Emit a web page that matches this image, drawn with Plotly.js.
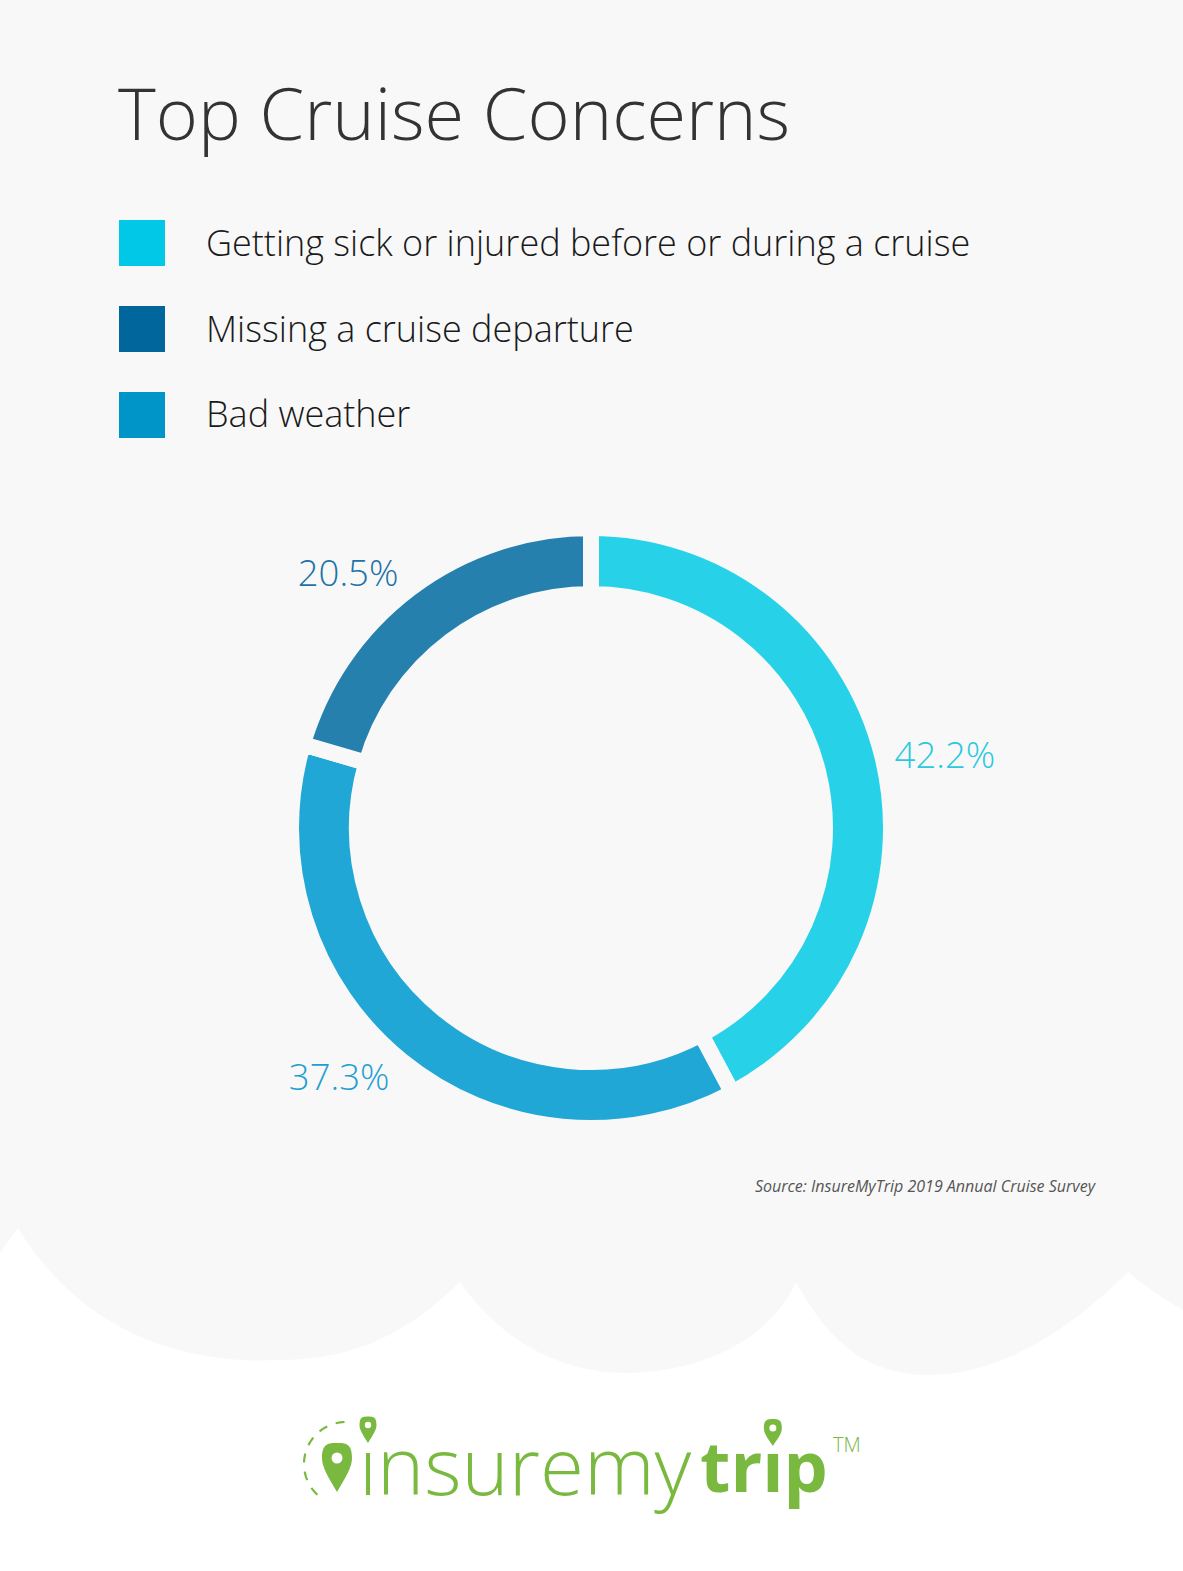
<!DOCTYPE html>
<html>
<head>
<meta charset="utf-8">
<script src="https://cdn.plot.ly/plotly-3.0.1.min.js"></script>
<style>
  html, body { margin: 0; padding: 0; background: #ffffff; }
  #chart { width: 1183px; height: 1571px; }
</style>
</head>
<body>
<div id="chart"></div>
<script>
// ---- Data ----
var categories = [
  "Getting sick or injured before or during a cruise",
  "Missing a cruise departure",
  "Bad weather"
];
var shares = [42.2, 20.5, 37.3];          // percent of respondents
var ringColors = ["#27d2e8", "#2580ae", "#21a7d5"];
var legendColors = ["#00c8e6", "#00669c", "#0095c8"];
var labelColors = ["#2ac9e0", "#1d73a6", "#1f9fd1"];
var ringOrder = [0, 2, 1];                // clockwise order round the ring
var titleText = "Top Cruise Concerns";
var sourceText = "Source: InsureMyTrip 2019 Annual Cruise Survey";

// ---- helpers (pixel -> paper) ----
var W = 1183, H = 1571;
function px(x) { return x / W; }
function py(y) { return 1 - y / H; }

// ---- pie trace ----
var pieLabels = ringOrder.map(function (i) { return categories[i]; });
var pieValues = ringOrder.map(function (i) { return shares[i]; });
var pieColors = ringOrder.map(function (i) { return ringColors[i]; });
var pieTextColors = ringOrder.map(function (i) { return labelColors[i]; });

var cx = 588, cy = 828, R = 300;
var trace = {
  type: "pie",
  labels: pieLabels,
  values: pieValues,
  sort: false,
  direction: "clockwise",
  rotation: 0,
  hole: 0.78,
  marker: { colors: pieColors, line: { color: "#f8f8f8", width: 16 } },
  texttemplate: "%{value:.1f}%",
  textposition: "outside",
  outsidetextfont: { family: "Open Sans", size: 36.5, weight: 300, color: pieTextColors },
  showlegend: false,
  hoverinfo: "label+value",
  domain: { x: [px(cx - R + 3), px(cx + R + 3)], y: [py(cy + R), py(cy - R)] }
};

// ---- background wave ----
function P(x, y) { return px(x).toFixed(5) + "," + py(y).toFixed(5); }
var wavePath =
  "M" + P(0, 0) + " L" + P(1183, 0) + " L" + P(1183, 1310) +
  " C" + P(1165, 1300) + " " + P(1150, 1290) + " " + P(1128, 1272) +
  " C" + P(1070, 1330) + " " + P(1000, 1375) + " " + P(928, 1375) +
  " C" + P(870, 1375) + " " + P(830, 1345) + " " + P(796, 1282) +
  " C" + P(770, 1340) + " " + P(700, 1373) + " " + P(626, 1373) +
  " C" + P(560, 1373) + " " + P(500, 1340) + " " + P(460, 1282) +
  " C" + P(420, 1320) + " " + P(370, 1360) + " " + P(279, 1360) +
  " C" + P(180, 1365) + " " + P(80, 1330) + " " + P(18, 1228) +
  " L" + P(0, 1253) + " Z";

var shapes = [{
  type: "path", xref: "paper", yref: "paper", path: wavePath,
  fillcolor: "#f8f8f8", line: { width: 0 }, layer: "below"
}];

// ---- legend (squares + labels) ----
var annotations = [];
categories.forEach(function (c, i) {
  var top = 220 + i * 86;
  shapes.push({
    type: "rect", xref: "paper", yref: "paper",
    x0: px(119), x1: px(165), y0: py(top + 46), y1: py(top),
    fillcolor: legendColors[i], line: { width: 0 }
  });
  annotations.push({
    xref: "paper", yref: "paper", x: px(204), y: py(top + 22),
    xanchor: "left", yanchor: "middle", showarrow: false,
    text: c, font: { family: "Open Sans", size: 36, weight: 300, color: "#1a1a1a" }
  });
});

// title
annotations.push({
  xref: "paper", yref: "paper", x: px(116), y: py(112),
  xanchor: "left", yanchor: "middle", showarrow: false,
  text: titleText, font: { family: "Open Sans", size: 72, weight: 300, color: "#333333" }
});
// source
annotations.push({
  xref: "paper", yref: "paper", x: px(1099), y: py(1186),
  xanchor: "right", yanchor: "middle", showarrow: false,
  text: "<i>" + sourceText + "</i>",
  font: { family: "Open Sans", size: 16, color: "#555555" }
});

// ---- logo ----
var green = "#7ab93f";
annotations.push({
  xref: "paper", yref: "paper", x: px(357), y: py(1463),
  xanchor: "left", yanchor: "middle", showarrow: false,
  text: "\u0131nsuremy",
  font: { family: "Open Sans", size: 80, weight: 300, color: green }
});
annotations.push({
  xref: "paper", yref: "paper", x: px(698), y: py(1465),
  xanchor: "left", yanchor: "middle", showarrow: false,
  text: "tr\u0131p",
  font: { family: "Open Sans", size: 70, weight: 700, color: green }
});
annotations.push({
  xref: "paper", yref: "paper", x: px(831), y: py(1444),
  xanchor: "left", yanchor: "middle", showarrow: false,
  text: "TM", font: { family: "Open Sans", size: 20, weight: 300, color: green }
});
function pin(x, y, r, tip) {
  var k = r * 0.55;
  return "M" + P(x, tip) +
    " C" + P(x - r * 0.6, tip - (tip - y) * 0.45) + " " + P(x - r, y + r * 0.6) + " " + P(x - r, y) +
    " C" + P(x - r, y - k - r * 0.45) + " " + P(x - k, y - r) + " " + P(x, y - r) +
    " C" + P(x + k, y - r) + " " + P(x + r, y - k - r * 0.45) + " " + P(x + r, y) +
    " C" + P(x + r, y + r * 0.6) + " " + P(x + r * 0.6, tip - (tip - y) * 0.45) + " " + P(x, tip) + " Z";
}
function pinShapes(list, x, y, r, tip, hole) {
  list.push({ type: "path", xref: "paper", yref: "paper", path: pin(x, y, r, tip),
    fillcolor: green, line: { width: 0 } });
  list.push({ type: "circle", xref: "paper", yref: "paper",
    x0: px(x - hole), x1: px(x + hole), y0: py(y + hole), y1: py(y - hole),
    fillcolor: "#ffffff", line: { width: 0 } });
}
pinShapes(shapes, 337, 1458, 15, 1492, 5.5);
pinShapes(shapes, 368, 1425, 8.5, 1443, 3.2);
// dashed arc round the big pin
(function () {
  var ccx = 346, ccy = 1464, rr = 42, pts = [];
  for (var a = 92; a <= 238; a += 3) {
    var t = a * Math.PI / 180;
    pts.push(P(ccx + rr * Math.cos(t), ccy - rr * Math.sin(t)));
  }
  shapes.push({ type: "path", xref: "paper", yref: "paper",
    path: "M" + pts.join(" L"), line: { color: green, width: 2.2, dash: "dash" } });
})();

var layout = {
  width: W, height: H,
  margin: { l: 0, r: 0, t: 0, b: 0 },
  paper_bgcolor: "#ffffff",
  plot_bgcolor: "rgba(0,0,0,0)",
  showlegend: false,
  shapes: shapes,
  annotations: annotations
};

Plotly.newPlot("chart", [trace], layout, { displayModeBar: false, staticPlot: true }).then(function () {
  // put a pin over the dotless i of "trip", at its rendered position
  var tripEl = null;
  document.querySelectorAll(".annotation-text").forEach(function (el) {
    if (el.textContent === "tr\u0131p") tripEl = el;
  });
  var ix = 778;
  if (tripEl && tripEl.getStartPositionOfChar) {
    try {
      var bb = tripEl.getBBox();
      var rect = tripEl.getBoundingClientRect();
      var host = document.getElementById("chart").getBoundingClientRect();
      var s = tripEl.getStartPositionOfChar(2).x, e = tripEl.getEndPositionOfChar(2).x;
      ix = rect.left - host.left + ((s + e) / 2 - bb.x);
    } catch (err) {}
  }
  var newShapes = shapes.slice();
  pinShapes(newShapes, ix, 1428, 9, 1446, 3.5);
  Plotly.relayout("chart", { shapes: newShapes });
});
</script>
</body>
</html>
